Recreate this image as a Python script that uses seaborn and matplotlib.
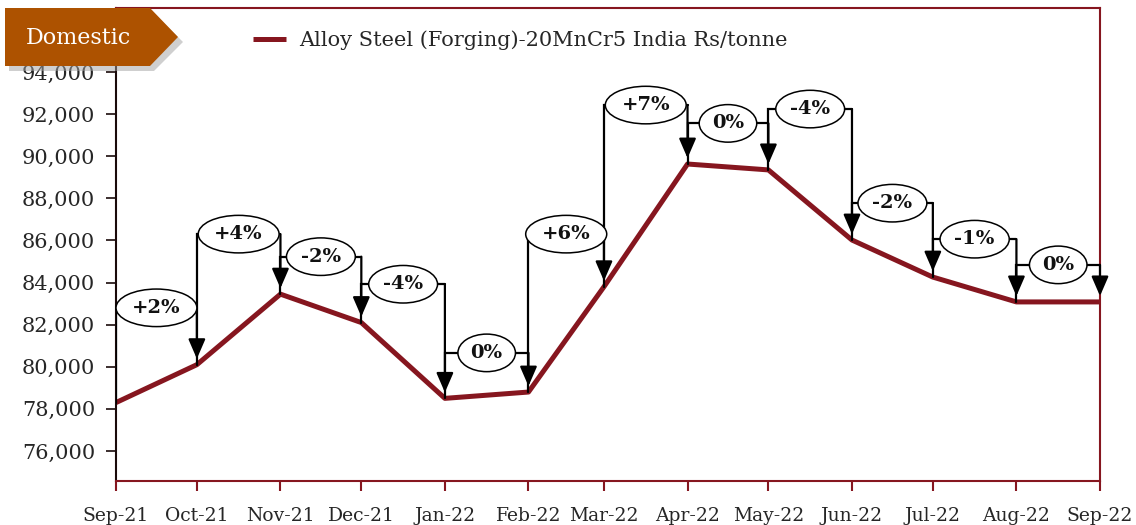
import matplotlib.pyplot as plt
import matplotlib.dates as mdates
from matplotlib.patches import Polygon
from matplotlib.ticker import FuncFormatter
import pandas as pd
import seaborn as sns

# Data
months = ["2021-09-01", "2021-10-01", "2021-11-01", "2021-12-01", "2022-01-01",
          "2022-02-01", "2022-03-01", "2022-04-01", "2022-05-01", "2022-06-01",
          "2022-07-01", "2022-08-01", "2022-09-01"]
price = [78300, 80100, 83450, 82100, 78500, 78800, 83800, 89630, 89350,
         86020, 84260, 83080, 83080]
change_labels = ["+2%", "+4%", "-2%", "-4%", "0%", "+6%", "+7%", "0%", "-4%",
                 "-2%", "-1%", "0%"]
bracket_levels = [82800, 86300, 85230, 83920, 80660, 86300, 92430, 91560,
                  92240, 87770, 86060, 84840]
series_name = "Alloy Steel (Forging)-20MnCr5 India Rs/tonne"

df = pd.DataFrame({"date": pd.to_datetime(months), "value": price})

LINE = "#86161f"
TAG = "#ad5200"

sns.set_style("white")
plt.rcParams["font.family"] = ["DejaVu Serif"]

fig = plt.figure(figsize=(11.36, 5.25), dpi=100)
ax = fig.add_axes([116 / 1136, 1 - 481 / 525, 984 / 1136, 473 / 525])

sns.lineplot(data=df, x="date", y="value", color=LINE, lw=3.6, ax=ax,
             label=series_name, solid_capstyle="butt")

# bracket annotations
gap = 280
for i, lab in enumerate(change_labels):
    x0, x1 = df["date"][i], df["date"][i + 1]
    y0, y1 = df["value"][i], df["value"][i + 1]
    h = bracket_levels[i]
    ax.plot([x0, x0, x1], [y0, h, h], color="black", lw=1.6, zorder=4,
            solid_joinstyle="miter")
    ax.annotate("", xy=(x1, y1 + gap), xytext=(x1, h),
                arrowprops=dict(arrowstyle="-|>,head_length=0.6,head_width=0.26",
                                mutation_scale=20, lw=1.6, color="black",
                                shrinkA=0, shrinkB=0), zorder=5)
    ax.text(x0 + (x1 - x0) / 2, h, lab, ha="center", va="center",
            fontsize=14, fontweight="bold", color="#111111", zorder=6,
            bbox=dict(boxstyle="ellipse,pad=0.22", fc="white", ec="black", lw=1.1))

ax.set_xlim(df["date"].iloc[0], df["date"].iloc[-1])
ax.set_ylim(74575, 97040)
ax.set_yticks(range(76000, 94001, 2000))
ax.yaxis.set_major_formatter(FuncFormatter(lambda v, p: f"{int(v):,}"))
ax.set_xticks(df["date"])
ax.xaxis.set_major_formatter(mdates.DateFormatter("%b-%y"))
ax.set_xlabel("")
ax.set_ylabel("")

for side in ["top", "right", "bottom"]:
    ax.spines[side].set_color(LINE)
    ax.spines[side].set_linewidth(1.5)
ax.spines["left"].set_color("#1a0a0a")
ax.spines["left"].set_linewidth(1.5)
ax.tick_params(axis="y", direction="out", length=7, width=1.2, color="#1a0a0a",
               labelsize=15, pad=8, left=True)
ax.tick_params(axis="x", direction="out", length=7, width=1.5, color=LINE,
               labelsize=13.5, pad=12, bottom=True)

ax.legend(loc="center left", bbox_to_anchor=(0.12, 0.932), frameon=False,
          fontsize=15, handlelength=1.6, handletextpad=0.6)

# "Domestic" tag in the corner
def px(x, y):
    return (x / 1136, 1 - y / 525)

shadow = Polygon([px(9, 13), px(154, 13), px(183, 42), px(154, 71), px(9, 71)],
                 closed=True, transform=fig.transFigure, fc="#a0a0a0", ec="none",
                 alpha=0.5, zorder=9)
tag = Polygon([px(5, 8), px(150, 8), px(178, 37), px(150, 66), px(5, 66)],
              closed=True, transform=fig.transFigure, fc=TAG, ec="none", zorder=10)
fig.patches.extend([shadow, tag])
fig.text(*px(78, 38), "Domestic", color="white", fontsize=16, ha="center",
         va="center", zorder=11)

fig.savefig("out.png", dpi=100)
